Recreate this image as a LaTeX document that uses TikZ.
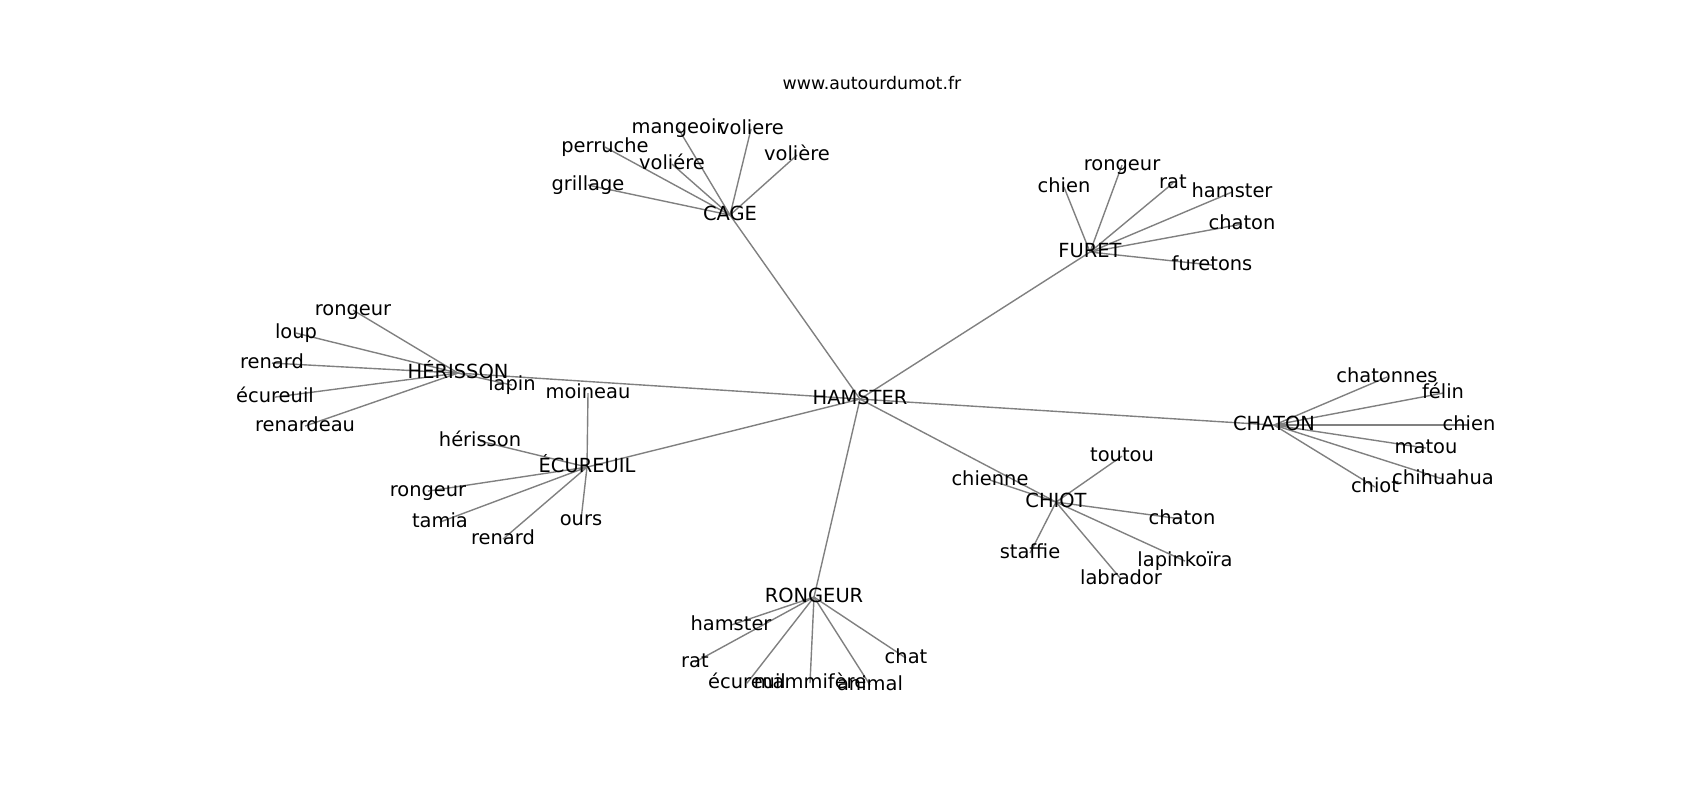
\documentclass[tikz,border=0pt]{standalone}
\usepackage{fontspec}
\setmainfont{DejaVu Sans}
\pgfdeclarelayer{bg}
\pgfdeclarelayer{edges}
\pgfsetlayers{bg,edges,main}
\tikzset{
  lbl/.style={inner sep=0pt, outer sep=0pt, font=\fontsize{14}{16}\selectfont, text height=10.6pt, text depth=2.9pt},
  ttl/.style={inner sep=0pt, outer sep=0pt, font=\fontsize{12.5}{15}\selectfont, text height=9.5pt, text depth=2.6pt},
  link/.style={draw=black!50, line width=1pt}
}
\begin{document}
\begin{tikzpicture}[x=0.72pt, y=-0.72pt]
\begin{pgfonlayer}{bg}
\fill[white] (0,0) rectangle (1700,800);
\end{pgfonlayer}
\useasboundingbox (0,0) rectangle (1700,800);

\begin{scope}[yshift=-1.5]
\node[ttl] (title) at (872,83) {www.autourdumot.fr};

% hubs
\node[lbl] (h) at (860,397) {HAMSTER};
\node[lbl] (cage) at (730,213) {CAGE};
\node[lbl] (furet) at (1090,250) {FURET};
\node[lbl] (her) at (458,371) {HÉRISSON};
\node[lbl] (ecu) at (587,465) {ÉCUREUIL};
\node[lbl] (ron) at (814,595) {RONGEUR};
\node[lbl] (chiot) at (1056,500) {CHIOT};
\node[lbl] (chaton) at (1274,423) {CHATON};

% CAGE leaves
\node[lbl] (ca1) at (678,126) {mangeoir};
\node[lbl] (ca2) at (751,127) {voliere};
\node[lbl] (ca3) at (605,145) {perruche};
\node[lbl] (ca4) at (797,153) {volière};
\node[lbl] (ca5) at (672,162) {voliére};
\node[lbl] (ca6) at (588,183) {grillage};

% FURET leaves
\node[lbl] (fu1) at (1122,163) {rongeur};
\node[lbl] (fu2) at (1064,185) {chien};
\node[lbl] (fu3) at (1173,181) {rat};
\node[lbl] (fu4) at (1232,190) {hamster};
\node[lbl] (fu5) at (1242,222) {chaton};
\node[lbl] (fu6) at (1212,263) {furetons};

% HERISSON leaves
\node[lbl] (he1) at (353,308) {rongeur};
\node[lbl] (he2) at (296,331) {loup};
\node[lbl] (he3) at (272,361) {renard};
\node[lbl] (he4) at (275,395) {écureuil};
\node[lbl] (he5) at (305,424) {renardeau};
\node[lbl] (he6) at (512,383) {lapin};

% ECUREUIL leaves
\node[lbl] (ec1) at (588,391) {moineau};
\node[lbl] (ec2) at (480,439) {hérisson};
\node[lbl] (ec3) at (428,489) {rongeur};
\node[lbl] (ec4) at (440,520) {tamia};
\node[lbl] (ec5) at (503,537) {renard};
\node[lbl] (ec6) at (581,518) {ours};

% RONGEUR leaves
\node[lbl] (ro1) at (731,623) {hamster};
\node[lbl] (ro2) at (695,660) {rat};
\node[lbl] (ro3) at (747,681) {écureuil};
\node[lbl] (ro4) at (810,681) {mammifère};
\node[lbl] (ro5) at (870,683) {animal};
\node[lbl] (ro6) at (906,656) {chat};

% CHIOT leaves
\node[lbl] (ch1) at (1122,454) {toutou};
\node[lbl] (ch2) at (990,478) {chienne};
\node[lbl] (ch3) at (1182,517) {chaton};
\node[lbl] (ch4) at (1030,551) {staffie};
\node[lbl] (ch5) at (1185,559) {lapinkoïra};
\node[lbl] (ch6) at (1121,577) {labrador};

% CHATON leaves
\node[lbl] (ct1) at (1387,375) {chatonnes};
\node[lbl] (ct2) at (1443,391) {félin};
\node[lbl] (ct3) at (1469,423) {chien};
\node[lbl] (ct4) at (1426,446) {matou};
\node[lbl] (ct5) at (1443,477) {chihuahua};
\node[lbl] (ct6) at (1375,485) {chiot};
\end{scope}

\begin{pgfonlayer}{edges}
\foreach \a in {cage,furet,her,ecu,ron,chiot,chaton}
  \draw[link] (h.center) -- (\a.center);
\foreach \a in {ca1,ca2,ca3,ca4,ca5,ca6}
  \draw[link] (cage.center) -- (\a.center);
\foreach \a in {fu1,fu2,fu3,fu4,fu5,fu6}
  \draw[link] (furet.center) -- (\a.center);
\foreach \a in {he1,he2,he3,he4,he5,he6}
  \draw[link] (her.center) -- (\a.center);
\foreach \a in {ec1,ec2,ec3,ec4,ec5,ec6}
  \draw[link] (ecu.center) -- (\a.center);
\foreach \a in {ro1,ro2,ro3,ro4,ro5,ro6}
  \draw[link] (ron.center) -- (\a.center);
\foreach \a in {ch1,ch2,ch3,ch4,ch5,ch6}
  \draw[link] (chiot.center) -- (\a.center);
\foreach \a in {ct1,ct2,ct3,ct4,ct5,ct6}
  \draw[link] (chaton.center) -- (\a.center);
\end{pgfonlayer}
\end{tikzpicture}
\end{document}
